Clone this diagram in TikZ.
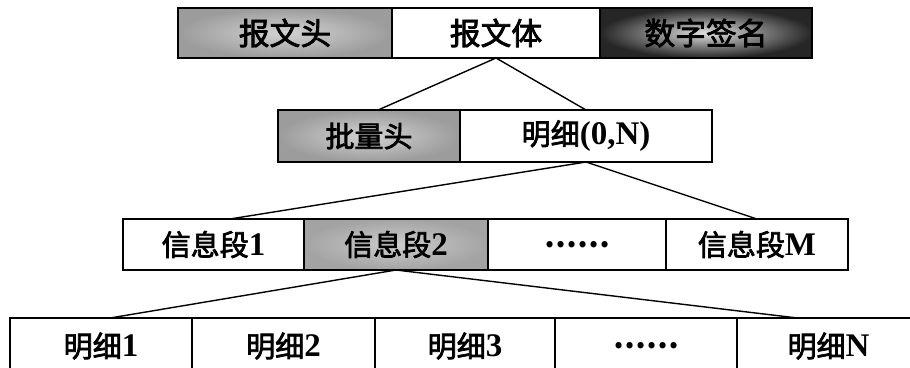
\documentclass[tikz,border=0pt]{standalone}
\usepackage{fontspec}
\setmainfont{Liberation Serif}
\newfontfamily\cjkf[Scale=0.88, FakeBold=2.5]{Noto Sans CJK SC}
\newfontfamily\cjkb[Scale=0.88]{Noto Sans CJK SC}
\newcommand{\zh}[1]{{\mdseries\cjkf #1}}
\newcommand{\zhdots}{{\cjkb\bfseries ……}}
\usetikzlibrary{calc}
\tikzset{
  cell/.style={draw=black, line width=1.5pt, rectangle, inner sep=0pt, outer sep=0pt,
    font=\fontsize{33}{38}\selectfont\bfseries},
  bigcell/.style={cell, font=\fontsize{35}{40}\selectfont\bfseries},
  darkcell/.style={shade, inner color=gray!35, outer color=gray!78},
  blackcell/.style={shade, inner color=gray!25, outer color=black!85, line width=2.5pt},
  midcell/.style={shade, inner color=gray!40, outer color=gray!72},
  link/.style={line width=1.4pt}
}
\begin{document}
\begin{tikzpicture}[x=1pt,y=-1pt]
\useasboundingbox (0,0) rectangle (910,367);
\clip (0,0) rectangle (910,367);
% row 1
\node[bigcell, darkcell, minimum width=214pt, minimum height=50pt] (bh) at (285,33) {\zh{报文头}};
\node[bigcell, fill=white, minimum width=208pt, minimum height=50pt] (bt) at (496,33) {\zh{报文体}};
\node[bigcell, blackcell, minimum width=212pt, minimum height=50pt] (sg) at (706,33) {\zh{数字签名}};
% row 2
\node[cell, darkcell, minimum width=182pt, minimum height=52pt] (pl) at (369,136) {\zh{批量头}};
\node[cell, fill=white, minimum width=252pt, minimum height=52pt] (mx) at (586,136) {\zh{明细}(0,N)};
% row 3
\node[cell, fill=white, minimum width=181pt, minimum height=51pt] (s1) at (213.5,244.5) {\zh{信息段}1};
\node[cell, midcell, minimum width=184pt, minimum height=51pt] (s2) at (396,244.5) {\zh{信息段}2};
\node[cell, fill=white, minimum width=178pt, minimum height=51pt] (s3) at (577,244.5) {\zhdots};
\node[cell, fill=white, minimum width=182pt, minimum height=51pt] (sM) at (757,244.5) {\zh{信息段}M};
% row 4
\node[cell, fill=white, minimum width=182pt, minimum height=56pt] (d1) at (101,346) {\zh{明细}1};
\node[cell, fill=white, minimum width=183pt, minimum height=56pt] (d2) at (283.5,346) {\zh{明细}2};
\node[cell, fill=white, minimum width=180pt, minimum height=56pt] (d3) at (465,346) {\zh{明细}3};
\node[cell, fill=white, minimum width=182pt, minimum height=56pt] (d4) at (646,346) {\zhdots};
\node[cell, fill=white, minimum width=183pt, minimum height=56pt] (dN) at (828.5,346) {\zh{明细}N};
% connectors
\draw[link] (bt.south) -- ($(pl.north west)!0.55!(pl.north east)$);
\draw[link] (bt.south) -- (mx.north);
\draw[link] (mx.south) -- ($(s1.north west)!0.59!(s1.north east)$);
\draw[link] (mx.south) -- (sM.north);
\draw[link] (s2.south) -- ($(d1.north west)!0.55!(d1.north east)$);
\draw[link] (s2.south) -- ($(dN.north west)!0.33!(dN.north east)$);
\end{tikzpicture}
\end{document}
